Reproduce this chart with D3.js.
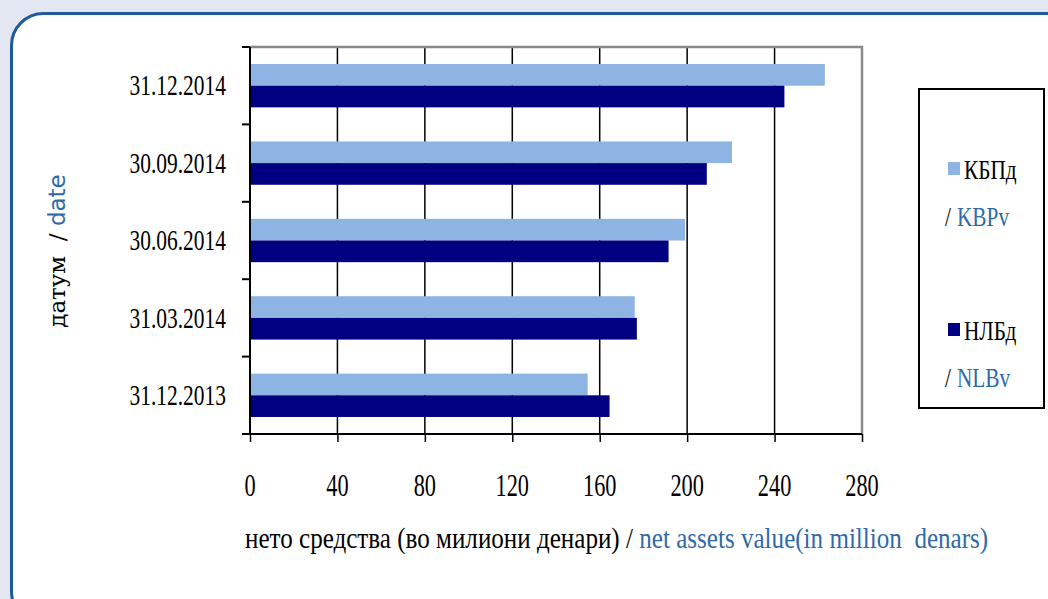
<!DOCTYPE html>
<html>
<head>
<meta charset="utf-8">
<script src="https://cdn.jsdelivr.net/npm/d3@7"></script>
<style>
  body { margin: 0; background: #e3e7f1; }
  svg { display: block; }
</style>
</head>
<body>
<script>
// dates top to bottom, as in the chart
var dates = ["31.12.2014", "30.09.2014", "30.06.2014", "31.03.2014", "31.12.2013"];
var kbpValues = [263, 220.5, 199, 176, 154.5];   // КБПд / KBPv
var nlbValues = [244.5, 209, 191.5, 177, 164.5]; // НЛБд / NLBv
var xTicks = [0, 40, 80, 120, 160, 200, 240, 280];
var seriesNames = ["kbp", "nlb"];

var W = 1048, H = 599;
var blue = "#2f6aa8";
var serif = "'Liberation Serif', serif";

var svg = d3.select("body").append("svg").attr("width", W).attr("height", H);

// white rounded panel
svg.append("rect")
  .attr("x", 11.5).attr("y", 13.5)
  .attr("width", 1070).attr("height", 610)
  .attr("rx", 32)
  .attr("fill", "#fff")
  .attr("stroke", "#1f5b9b").attr("stroke-width", 3);

var x = d3.scaleLinear().domain([0, 280]).range([250, 862]);
var y = d3.scaleBand().domain(dates).range([47, 434])
  .paddingInner(0.44).paddingOuter(0.22);
var ySub = d3.scaleBand().domain(seriesNames).range([0, y.bandwidth()]);
var color = {kbp: "#8eb4e3", nlb: "#000080"};

function label(g, tx, ty, txt, size, sx, anchor, fill) {
  return g.append("text")
    .attr("transform", "translate(" + tx + "," + ty + ") scale(" + sx + ",1)")
    .attr("text-anchor", anchor || "middle")
    .attr("dominant-baseline", "central")
    .style("font-family", serif)
    .style("font-size", size + "px")
    .attr("fill", fill || "#000")
    .text(txt);
}

// vertical gridlines
svg.selectAll(".grid")
  .data(xTicks.slice(1, -1))
  .enter().append("line")
  .attr("class", "grid")
  .attr("x1", function(d) { return x(d); })
  .attr("x2", function(d) { return x(d); })
  .attr("y1", 47).attr("y2", 434)
  .attr("stroke", "#000").attr("stroke-width", 1.5);

// grey top and right border of the plot area
svg.append("path")
  .attr("d", "M" + x(0) + ",47H" + x(280) + "V434")
  .attr("fill", "none").attr("stroke", "#8a8a8a").attr("stroke-width", 2.5);

// bars
var rows = dates.map(function(d, i) {
  return {date: d, kbp: kbpValues[i], nlb: nlbValues[i]};
});
var groups = svg.selectAll(".row")
  .data(rows)
  .enter().append("g")
  .attr("class", "row")
  .attr("transform", function(d) { return "translate(0," + y(d.date) + ")"; });
groups.selectAll("rect")
  .data(function(d) { return seriesNames.map(function(s) { return {s: s, v: d[s]}; }); })
  .enter().append("rect")
  .attr("x", x(0))
  .attr("y", function(d) { return ySub(d.s); })
  .attr("width", function(d) { return x(d.v) - x(0); })
  .attr("height", ySub.bandwidth())
  .attr("fill", function(d) { return color[d.s]; });

// axes
var xAxis = svg.append("g").attr("transform", "translate(0,434)")
  .call(d3.axisBottom(x).tickValues(xTicks).tickSize(8).tickFormat(""));
xAxis.select(".domain").attr("d", "M242,0H" + x(280)).attr("stroke-width", 2);
xAxis.selectAll(".tick line").attr("stroke-width", 1.5);

var step = y.step();
var yAxis = svg.append("g").attr("transform", "translate(" + x(0) + ",0)");
yAxis.append("line").attr("x1", 0).attr("x2", 0).attr("y1", 47).attr("y2", 434)
  .attr("stroke", "#000").attr("stroke-width", 2);
yAxis.selectAll(".cat-tick")
  .data(d3.range(dates.length + 1))
  .enter().append("line")
  .attr("x1", -8).attr("x2", 0)
  .attr("y1", function(i) { return 47 + i * step; })
  .attr("y2", function(i) { return 47 + i * step; })
  .attr("stroke", "#000").attr("stroke-width", 2);

// tick labels
dates.forEach(function(d) {
  label(svg, 226, y(d) + y.bandwidth() / 2, d, 29, 0.74, "end");
});
xTicks.forEach(function(t) {
  label(svg, x(t), 486, t, 31, 0.72, "middle");
});

// axis titles
var xt = svg.append("text")
  .attr("transform", "translate(245,538) scale(0.865,1)")
  .attr("dominant-baseline", "central")
  .style("white-space", "pre")
  .style("font-family", serif).style("font-size", "29px");
xt.append("tspan").attr("fill", "#000").text("нето средства (во милиони денари) / ");
xt.append("tspan").attr("fill", blue).text("net assets value(in million  denars)");

var yt = svg.append("text")
  .attr("transform", "translate(57,251) rotate(-90)")
  .attr("text-anchor", "middle")
  .attr("dominant-baseline", "central")
  .style("white-space", "pre")
  .style("font-size", "23px");
yt.append("tspan").style("font-family", "'DejaVu Serif', serif").attr("fill", "#000")
  .text("датум  / ");
yt.append("tspan").style("font-family", "'DejaVu Sans', sans-serif").attr("fill", blue).text("date");

// legend
var legendItems = [
  {s: "kbp", mk: "КБПд", en: "KBPv", y: 169},
  {s: "nlb", mk: "НЛБд", en: "NLBv", y: 330}
];
svg.append("rect")
  .attr("x", 919).attr("y", 89).attr("width", 125).attr("height", 319)
  .attr("fill", "#fff").attr("stroke", "#000").attr("stroke-width", 2);
var leg = svg.selectAll(".leg").data(legendItems).enter().append("g").attr("class", "leg");
leg.append("rect")
  .attr("x", 948).attr("y", function(d) { return d.y - 7; })
  .attr("width", 12).attr("height", 13)
  .attr("fill", function(d) { return color[d.s]; });
leg.each(function(d) {
  var g = d3.select(this);
  label(g, 964, d.y, d.mk, 28, 0.76, "start");
  label(g, 945, d.y + 47, "/", 28, 0.76, "start");
  label(g, 957, d.y + 47, d.en, 28, 0.76, "start", blue);
});
</script>
</body>
</html>
